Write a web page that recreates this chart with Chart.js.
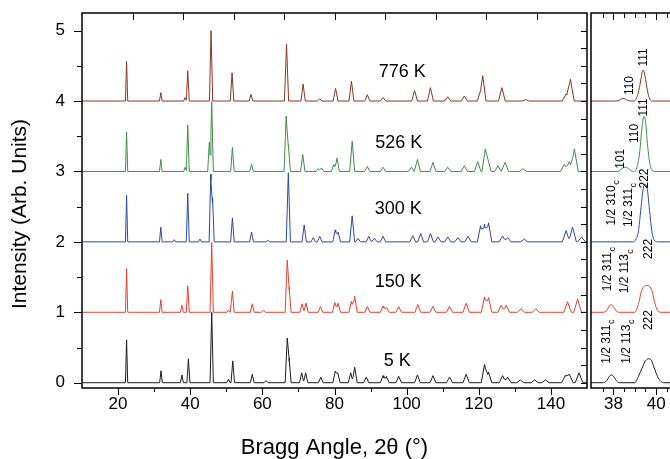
<!DOCTYPE html>
<html><head><meta charset="utf-8">
<script src="https://cdn.jsdelivr.net/npm/chart.js@4.4.0/dist/chart.umd.min.js"></script>
<style>
html,body{margin:0;padding:0;background:#fff;}
#wrap{position:relative;width:670px;height:459px;overflow:hidden;background:#fff;}
#main{position:absolute;left:0;top:0;}
#inset{position:absolute;left:500px;top:0;}
</style></head><body>
<div id="wrap"><canvas id="main" width="670" height="459"></canvas><canvas id="inset" width="200" height="459"></canvas></div>
<script>
// ---------------- DATA ----------------
const seriesNames = ['5 K', '150 K', '300 K', '526 K', '776 K'];
const seriesOffsets = [0, 1, 2, 3, 4];
const seriesColors = ['#1c1c1c', '#e4412f', '#30479f', '#3f8c4c', '#8c3427'];

// main panel: peaks [2theta, intensity, optional half-width]
const peaks5K = [[22.36,0.61],[31.9,0.17],[37.7,0.11],[39.5,0.34],[45.96,1.0],[50.6,0.05],[51.8,0.31],[57.2,0.12],[61.0,0.03],[66.9,0.635],[67.4,0.35],[70.9,0.14],[72.0,0.14],[76.2,0.08],[80.2,0.16],[80.9,0.14],[84.5,0.14],[85.6,0.22],[88.8,0.08],[93.45,0.10],[94.4,0.09],[97.8,0.09],[103.0,0.11],[107.3,0.10],[111.9,0.08],[116.5,0.12],[121.6,0.26],[122.7,0.15],[126.6,0.10],[128.0,0.08],[131.5,0.04],[135.5,0.04],[138.5,0.04],[144.0,0.10],[145.1,0.12],[147.8,0.14]];
const peaks150K = [[22.36,0.62],[31.85,0.18],[37.7,0.10],[39.32,0.37],[45.96,0.99],[50.6,0.03],[51.7,0.30],[57.2,0.12],[60.3,0.03],[66.9,0.74],[67.4,0.36],[71.0,0.12],[72.1,0.13],[76.1,0.08],[80.1,0.14],[81.0,0.13],[84.7,0.16],[85.6,0.23],[89.1,0.08],[93.45,0.09],[94.4,0.07],[97.8,0.08],[103.1,0.11],[107.3,0.085],[111.9,0.085],[116.5,0.13],[121.6,0.22],[122.7,0.21],[126.2,0.10],[127.6,0.10],[131.7,0.05],[135.8,0.05],[144.6,0.15],[147.4,0.19]];
const peaks300K = [[22.36,0.66],[31.85,0.21],[35.6,0.03],[39.32,0.69],[42.7,0.04],[45.7,0.96],[46.2,0.62],[51.7,0.34],[57.0,0.14],[61.5,0.02],[67.2,0.98],[71.6,0.24],[74.1,0.06],[75.9,0.08],[80.2,0.17],[81.0,0.14],[84.9,0.37],[86.5,0.05],[89.5,0.08],[91.1,0.05],[93.45,0.08],[101.7,0.09],[103.9,0.12],[106.6,0.12],[108.7,0.07],[111.4,0.07],[114.2,0.06],[117.0,0.08],[120.5,0.23],[121.6,0.25],[122.7,0.27],[126.6,0.085],[128.0,0.06],[132.6,0.04],[144.2,0.16],[146.0,0.21],[148.5,0.07]];
const peaks526K = [[22.36,0.56],[31.85,0.17],[38.6,0.06],[39.32,0.66],[45.3,0.42],[45.96,0.99],[51.7,0.34],[57.0,0.10],[66.6,0.78],[67.2,0.38],[71.2,0.24],[75.5,0.04],[76.4,0.05],[79.8,0.10],[80.7,0.19],[84.9,0.43],[89.1,0.07],[93.45,0.06],[101.3,0.06],[103.0,0.17],[107.3,0.13],[111.4,0.06],[116.0,0.08],[119.7,0.14],[121.8,0.32],[122.5,0.18],[125.3,0.08],[127.3,0.13],[132.2,0.04],[143.7,0.10],[145.1,0.14],[146.5,0.32]];
const peaks776K = [[22.36,0.56],[31.85,0.12],[38.6,0.05],[39.32,0.43],[45.78,1.0],[51.6,0.40],[56.85,0.095],[66.7,0.81],[71.3,0.24],[75.9,0.03],[80.3,0.18],[84.7,0.28],[89.1,0.09],[93.45,0.05],[102.2,0.15],[106.6,0.19],[111.4,0.06],[116.0,0.07],[120.5,0.15],[121.1,0.36],[126.4,0.19],[133.0,0.02],[144.2,0.10],[145.4,0.31]];
const mainPeaks = [peaks5K, peaks150K, peaks300K, peaks526K, peaks776K];

// inset panel: [2theta, intensity] points
const inset5K = [[36.95,0],[37.53,0],[37.69,0.03],[37.81,0.09],[37.9,0.11],[38.03,0.08],[38.16,0.02],[38.31,0],[39.0,0],[39.17,0.09],[39.33,0.2],[39.48,0.3],[39.64,0.34],[39.77,0.32],[39.9,0.22],[40.06,0.09],[40.22,0.02],[40.38,0],[41,0]];
const inset150K = [[36.95,0],[37.53,0],[37.69,0.03],[37.81,0.09],[37.89,0.11],[38.0,0.08],[38.125,0.02],[38.28,0],[39.0,0],[39.19,0.14],[39.31,0.3],[39.44,0.37],[39.56,0.38],[39.69,0.37],[39.81,0.3],[39.94,0.13],[40.06,0.03],[40.22,0],[41,0]];
const inset300K = [[36.95,0],[38.9,0],[39.02,0.02],[39.17,0.15],[39.28,0.45],[39.375,0.72],[39.48,0.82],[39.59,0.74],[39.69,0.45],[39.8,0.15],[39.9,0.03],[40.06,0],[41,0]];
const inset526K = [[36.95,0],[38.16,0],[38.28,0.01],[38.44,0.05],[38.56,0.06],[38.7,0.04],[38.83,0.01],[38.94,0],[39.09,0.05],[39.22,0.25],[39.33,0.6],[39.42,0.78],[39.5,0.72],[39.59,0.4],[39.7,0.12],[39.81,0.02],[39.95,0],[41,0]];
const inset776K = [[36.95,0],[38.08,0],[38.28,0.01],[38.44,0.04],[38.6,0.02],[38.78,0],[38.97,0],[39.06,0.03],[39.19,0.15],[39.3,0.33],[39.375,0.44],[39.45,0.40],[39.56,0.2],[39.67,0.05],[39.8,0],[41,0]];
const insetData = [inset5K, inset150K, inset300K, inset526K, inset776K];

const mainXTicks = [20, 40, 60, 80, 100, 120, 140];
const yTickLabels = [0, 1, 2, 3, 4, 5];
const insetXTicks = [38, 40];

// ---------------- ANNOTATIONS ----------------
const FONT = '"Liberation Sans", Arial, Helvetica, sans-serif';
const tempLabels = [
  {t:'776 K', x:98.8, y:4.41}, {t:'526 K', x:97.8, y:3.405}, {t:'300 K', x:97.7, y:2.47},
  {t:'150 K', x:97.7, y:1.43}, {t:'5 K', x:97.4, y:0.31}
];
const insetLabels = [
  {t:'110', x:38.78, y:4.22}, {t:'111', x:39.41, y:4.62},
  {t:'101', x:38.35, y:3.18}, {t:'110', x:38.98, y:3.54}, {t:'111', x:39.41, y:3.91},
  {t:'1/2 310', sub:'c', x:37.93, y:2.55}, {t:'1/2 311', sub:'c', x:38.70, y:2.52}, {t:'222', x:39.48, y:2.90},
  {t:'1/2 311', sub:'c', x:37.72, y:1.61}, {t:'1/2 113', sub:'c', x:38.55, y:1.58}, {t:'222', x:39.64, y:1.90},
  {t:'1/2 311', sub:'c', x:37.69, y:0.58}, {t:'1/2 113', sub:'c', x:38.63, y:0.58}, {t:'222', x:39.64, y:0.89}
];

// ---------------- BUILD ----------------
const XMIN = 10, XMAX = 150, YMIN = -0.075, YMAX = 5.25;
function halfWidth(p){ return p[2] !== undefined ? p[2] : 0.3 + 0.006 * (p[0] - 20); }
function buildProfile(peaks, off){
  const xs = new Set([XMIN, XMAX]);
  peaks.forEach(p => { const w = halfWidth(p); xs.add(p[0]-w); xs.add(p[0]); xs.add(p[0]+w); });
  return [...xs].filter(v => v >= XMIN && v <= XMAX).sort((a,b)=>a-b).map(x => {
    let y = 0;
    peaks.forEach(p => { const w = halfWidth(p), d = Math.abs(x-p[0]); if (d < w) y = Math.max(y, p[1]*(1-d/w)); });
    return {x, y: y + off};
  });
}

function line(ctx, x1, y1, x2, y2){ ctx.beginPath(); ctx.moveTo(x1,y1); ctx.lineTo(x2,y2); ctx.stroke(); }

const mainDecor = {
  id: 'mainDecor',
  afterDraw(chart){
    const {ctx, chartArea:a, scales:{x, y}} = chart;
    ctx.save();
    ctx.strokeStyle = '#000'; ctx.lineWidth = 1;
    for (let i = 0; i <= 10; i++){ const v = i/2; const py = Math.round(y.getPixelForValue(v)) + 0.5; line(ctx, a.left - (i%2===0 ? 8 : 5), py, a.left, py); }
    for (let i = 0; i <= 20; i++){ const v = i/4; const py = Math.round(y.getPixelForValue(v)) + 0.5; line(ctx, a.right, py, a.right - 6, py); }
    for (let v = 20; v <= 140; v += 10){ const px = Math.round(x.getPixelForValue(v)) + 0.5; line(ctx, px, a.bottom, px, a.bottom + (v%20===0 ? 7 : 4)); }
    for (let v = 24; v <= 136; v += 14){ const px = Math.round(x.getPixelForValue(v)) + 0.5; line(ctx, px, a.top, px, a.top + 7); }
    ctx.lineWidth = 1.5;
    ctx.strokeRect(a.left, a.top, a.right - a.left, a.bottom - a.top);
    ctx.fillStyle = '#000'; ctx.textAlign = 'center'; ctx.textBaseline = 'middle';
    ctx.font = '18px ' + FONT;
    tempLabels.forEach(l => ctx.fillText(l.t, x.getPixelForValue(l.x), y.getPixelForValue(l.y)));
    ctx.save();
    ctx.translate(20, 214); ctx.rotate(-Math.PI/2);
    ctx.font = '21px ' + FONT;
    ctx.fillText('Intensity (Arb. Units)', 0, 0);
    ctx.restore();
    ctx.restore();
  }
};

const insetDecor = {
  id: 'insetDecor',
  afterDraw(chart){
    const {ctx, chartArea:a, scales:{x, y}} = chart;
    ctx.save();
    ctx.strokeStyle = '#000'; ctx.lineWidth = 1;
    for (let v = 37.5; v <= 40.51; v += 0.5){ const px = Math.round(x.getPixelForValue(v)) + 0.5; const maj = Math.abs(v - Math.round(v)) < 1e-6 && Math.round(v) % 2 === 0; line(ctx, px, a.bottom, px, a.bottom + (maj ? 7 : 4)); line(ctx, px, a.top, px, a.top + (maj ? 7 : 5)); }
    ctx.lineWidth = 1.5;
    ctx.strokeRect(a.left, a.top, a.right - a.left + 20, a.bottom - a.top);
    ctx.fillStyle = '#000'; ctx.textBaseline = 'middle'; ctx.textAlign = 'left';
    const f1 = '12px ' + FONT, f2 = '9px ' + FONT;
    insetLabels.forEach(l => {
      ctx.save();
      ctx.translate(x.getPixelForValue(l.x), y.getPixelForValue(l.y));
      ctx.rotate(-Math.PI/2);
      ctx.font = f1; const w1 = ctx.measureText(l.t).width;
      let w2 = 0; if (l.sub){ ctx.font = f2; w2 = ctx.measureText(l.sub).width; }
      const start = -(w1 + w2)/2;
      ctx.font = f1; ctx.fillText(l.t, start, 0);
      if (l.sub){ ctx.font = f2; ctx.fillText(l.sub, start + w1 + 0.5, 5); }
      ctx.restore();
    });
    ctx.restore();
  }
};

const tickFont = {size: 17, family: FONT};
function fixY(s){ s.width = 82; s.paddingTop = 0; s.paddingBottom = 0; }
function fixX(s){ s.height = 71; s.paddingLeft = 0; s.paddingRight = 0; }

new Chart(document.getElementById('main'), {
  type: 'scatter',
  data: { datasets: mainPeaks.map((pk, i) => ({
    label: seriesNames[i], data: buildProfile(pk, seriesOffsets[i]), showLine: true,
    borderColor: seriesColors[i], borderWidth: 1, pointRadius: 0, tension: 0
  })) },
  options: {
    responsive: false, animation: false,
    layout: {padding: {left: 0, right: 83, top: 13, bottom: 0}},
    plugins: {legend: {display: false}, tooltip: {enabled: false}},
    scales: {
      x: {type: 'linear', min: XMIN, max: XMAX, bounds: 'data',
        afterBuildTicks: s => { s.ticks = mainXTicks.map(v => ({value: v})); },
        grid: {display: false, drawTicks: false}, border: {display: false},
        ticks: {padding: 6, font: tickFont, color: '#000', maxRotation: 0, autoSkip: false},
        title: {display: true, text: 'Bragg Angle, 2θ (°)', color: '#000', font: {size: 22, family: FONT, lineHeight: 1}, padding: {top: 0, bottom: 0}},
        afterFit: fixX},
      y: {type: 'linear', min: YMIN, max: YMAX, bounds: 'data',
        afterBuildTicks: s => { s.ticks = yTickLabels.map(v => ({value: v})); },
        grid: {display: false, drawTicks: false}, border: {display: false},
        ticks: {padding: 17, font: tickFont, color: '#000'},
        afterFit: fixY}
    }
  },
  plugins: [mainDecor]
});

new Chart(document.getElementById('inset'), {
  type: 'scatter',
  data: { datasets: insetData.map((d, i) => ({
    label: seriesNames[i], data: d.map(p => ({x: p[0], y: p[1] + seriesOffsets[i]})), showLine: true,
    borderColor: seriesColors[i], borderWidth: 1, pointRadius: 0, cubicInterpolationMode: 'monotone'
  })) },
  options: {
    responsive: false, animation: false,
    layout: {padding: {left: 91, right: 22.5, top: 13, bottom: 0}},
    plugins: {legend: {display: false}, tooltip: {enabled: false}},
    scales: {
      x: {type: 'linear', min: 36.95, max: 41, bounds: 'data',
        afterBuildTicks: s => { s.ticks = insetXTicks.map(v => ({value: v})); },
        grid: {display: false, drawTicks: false}, border: {display: false},
        ticks: {padding: 6, font: tickFont, color: '#000', maxRotation: 0, autoSkip: false},
        afterFit: fixX},
      y: {type: 'linear', min: YMIN, max: YMAX, display: false}
    }
  },
  plugins: [insetDecor]
});
</script>
</body></html>
